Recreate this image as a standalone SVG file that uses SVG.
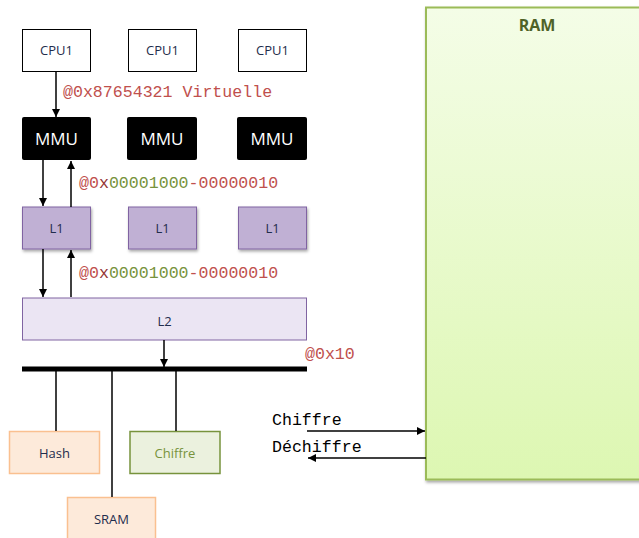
<svg xmlns="http://www.w3.org/2000/svg" width="639" height="538" viewBox="0 0 639 538">
<style>
.cpu{fill:#fff;stroke:#000;stroke-width:1}
.mmu{fill:#000}
.l1{fill:#c0b0d4;stroke:#8064a2;stroke-width:1}
.l2{fill:#ebe5f3;stroke:#8064a2;stroke-width:1}
.or{fill:#fdeada;stroke:#fac090;stroke-width:1.5}
.gr{fill:#ebf1de;stroke:#77933c;stroke-width:1.5}
.t{font-family:"Open Sans","Liberation Sans",sans-serif;font-size:13px;fill:#1f2d4d;text-anchor:middle}
.tw{font-family:"Open Sans","Liberation Sans",sans-serif;font-size:17px;fill:#fff;text-anchor:middle}
.m{font-family:"Liberation Mono","Courier New",monospace;font-size:16.6px}
.r{fill:#c0504d}
.g{fill:#77933c}
.x{fill:#943634}
.ln{stroke:#000;stroke-width:1.5;fill:none}
</style>
<defs>
<marker id="ah" viewBox="0 0 10 10" refX="10" refY="5" markerWidth="8" markerHeight="8" markerUnits="userSpaceOnUse" orient="auto"><path d="M0,0L10,5L0,10z" fill="#000"/></marker>
<linearGradient id="ramg" x1="0" y1="0" x2="0" y2="1"><stop offset="0" stop-color="#f4fde7"/><stop offset="1" stop-color="#ddf7b2"/></linearGradient>
<filter id="sh" x="-10%" y="-10%" width="130%" height="130%"><feDropShadow dx="1" dy="2" stdDeviation="1.5" flood-color="#000" flood-opacity="0.35"/></filter>
</defs>

<g id="ram">
<rect x="426" y="7.5" width="220" height="472" fill="url(#ramg)" stroke="#9bbb59" stroke-width="2" filter="url(#sh)"/>
<text x="537" y="31" font-family="'Open Sans','Liberation Sans',sans-serif" font-size="16" font-weight="bold" fill="#4f6228" text-anchor="middle">RAM</text>
</g>

<g id="cpu1"><rect class="cpu" x="22.5" y="29.5" width="68" height="42"/><text class="t" x="56.5" y="55">CPU1</text></g>
<g id="cpu2"><rect class="cpu" x="128.5" y="29.5" width="68" height="42"/><text class="t" x="162.5" y="55">CPU1</text></g>
<g id="cpu3"><rect class="cpu" x="238.5" y="29.5" width="68" height="42"/><text class="t" x="272.5" y="55">CPU1</text></g>

<g id="mmu1"><rect class="mmu" x="22" y="117" width="69" height="43" rx="2"/><text class="tw" x="56.5" y="144.5">MMU</text></g>
<g id="mmu2"><rect class="mmu" x="127" y="117" width="70" height="43" rx="2"/><text class="tw" x="162" y="144.5">MMU</text></g>
<g id="mmu3"><rect class="mmu" x="237" y="117" width="70" height="43" rx="2"/><text class="tw" x="272" y="144.5">MMU</text></g>

<g id="l1a"><rect class="l1" x="22.5" y="207" width="68" height="42" filter="url(#sh)"/><text class="t" x="56.5" y="233">L1</text></g>
<g id="l1b"><rect class="l1" x="128.5" y="207" width="68" height="42" filter="url(#sh)"/><text class="t" x="162.5" y="233">L1</text></g>
<g id="l1c"><rect class="l1" x="238.5" y="207" width="68" height="42" filter="url(#sh)"/><text class="t" x="272.5" y="233">L1</text></g>

<g id="l2"><rect class="l2" x="22.5" y="298" width="284" height="42"/><text class="t" x="164.5" y="326">L2</text></g>

<g id="hash"><rect class="or" x="9.5" y="431.5" width="90" height="42"/><text class="t" x="54.5" y="458">Hash</text></g>
<g id="chiffre"><rect class="gr" x="130" y="431.5" width="90" height="42"/><text class="t" x="175" y="458" style="fill:#77933c">Chiffre</text></g>
<g id="sram"><rect class="or" x="67.5" y="497.5" width="88" height="50"/><text class="t" x="111.5" y="524">SRAM</text></g>

<g id="connectors">
<line class="ln" x1="56" y1="72" x2="56" y2="117" marker-end="url(#ah)"/>
<line class="ln" x1="43" y1="160" x2="43" y2="206" marker-end="url(#ah)"/>
<line class="ln" x1="71" y1="207" x2="71" y2="161" marker-end="url(#ah)"/>
<line class="ln" x1="43" y1="249" x2="43" y2="297" marker-end="url(#ah)"/>
<line class="ln" x1="71" y1="297" x2="71" y2="250" marker-end="url(#ah)"/>
<line class="ln" x1="164" y1="340" x2="164" y2="367" marker-end="url(#ah)"/>
<line x1="22" y1="369" x2="307" y2="369" stroke="#000" stroke-width="5"/>
<line class="ln" x1="56" y1="371" x2="56" y2="431"/>
<line class="ln" x1="112" y1="371" x2="112" y2="497"/>
<line class="ln" x1="176" y1="371" x2="176" y2="431"/>
<line class="ln" x1="307" y1="431" x2="425" y2="431" marker-end="url(#ah)"/>
<line class="ln" x1="426" y1="458" x2="308" y2="458" marker-end="url(#ah)"/>
</g>

<g id="labels">
<text class="m" x="63" y="97"><tspan class="r">@0x87654321 Virtuelle</tspan></text>
<text class="m" x="79" y="188"><tspan class="r">@0</tspan><tspan class="x">x</tspan><tspan class="g">00001000</tspan><tspan class="r">-00000010</tspan></text>
<text class="m" x="79" y="278"><tspan class="r">@0</tspan><tspan class="x">x</tspan><tspan class="g">00001000</tspan><tspan class="r">-00000010</tspan></text>
<text class="m r" x="305" y="359">@0x10</text>
<text class="m" x="272" y="425" fill="#000">Chiffre</text>
<text class="m" x="272" y="452" fill="#000">Déchiffre</text>
</g>
</svg>
